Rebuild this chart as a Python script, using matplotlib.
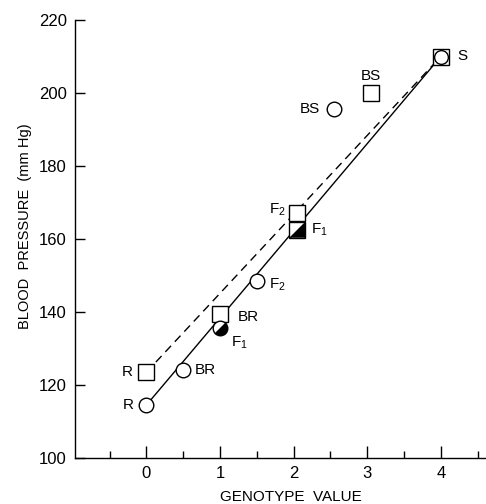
import matplotlib
matplotlib.use("Agg")
import matplotlib.pyplot as plt
from matplotlib.markers import MarkerStyle
from matplotlib.transforms import Affine2D
from matplotlib.ticker import MultipleLocator

# ---- data ----
circle_labels = ["R", "BR", "F1", "F2", "BS", "S"]
circle_x = [0, 0.5, 1.0, 1.5, 2.55, 4.0]
circle_y = [114.5, 124, 135.5, 148.5, 195.5, 210]

square_labels = ["R", "BR", "F2", "F1", "BS", "S"]
square_x = [0, 1.0, 2.05, 2.05, 3.05, 4.0]
square_y = [123.5, 139.5, 167, 162.5, 200, 210]

solid_line_x = [0, 4]
solid_line_y = [114.5, 210]
dashed_line_x = [0, 4]
dashed_line_y = [123.5, 210]

y_ticks = [100, 120, 140, 160, 180, 200, 220]
x_ticks = [0, 1, 2, 3, 4]

# ---- figure ----
plt.rcParams['font.family'] = ['Liberation Sans', 'DejaVu Sans']
fig = plt.figure(figsize=(4.86, 5.04), dpi=100)
ax = fig.add_axes([75/486, 1 - 458/504, 410/486, 438/504])
ax.set_xlim(-0.97, 4.6)
ax.set_ylim(100, 220)

ax.plot(solid_line_x, solid_line_y, color='black', lw=1.0, zorder=2)
ax.plot(dashed_line_x, dashed_line_y, color='black', lw=1.0,
        dashes=(6, 4), zorder=2)

cms = 10.5
sms = 11.0
half_circle = MarkerStyle('o', fillstyle='bottom',
                          transform=Affine2D().rotate_deg(45))
tri = [(1, -1), (1, 1), (-1, -1)]

for lab, x, y in zip(square_labels, square_x, square_y):
    ax.plot([x], [y], marker='s', mec='black', mfc='white', mew=1.0,
            ms=sms, ls='none', zorder=3)
    if lab == "F1":
        ax.plot([x], [y], marker=tri, color='black', ms=sms * 0.95,
                ls='none', zorder=4)

for lab, x, y in zip(circle_labels, circle_x, circle_y):
    size = cms if lab != "S" else sms * 0.9
    if lab == "F1":
        ax.plot([x], [y], marker=half_circle, mfc='black', mfcalt='white',
                mec='black', mew=1.0, ms=size, ls='none', zorder=5)
    else:
        ax.plot([x], [y], marker='o', mec='black', mfc='white', mew=1.0,
                ms=size, ls='none', zorder=5)

fs = 11
def lbl(text, x, y, dx, dy, ha, va='center'):
    ax.annotate(text, (x, y), xytext=(dx, dy), textcoords='offset points',
                ha=ha, va=va, fontsize=fs)

def sub(t):
    return {"F1": r"F$_\mathregular{1}$", "F2": r"F$_\mathregular{2}$"}.get(t, t)

c_off = {"R": (-9, 0, 'right'), "BR": (8, 0, 'left'), "F1": (8, -10, 'left'),
         "F2": (9, -3, 'left'), "BS": (-10, 0, 'right'), "S": (12, 0, 'left')}
s_off = {"R": (-10, 0, 'right'), "BR": (13, -2, 'left'), "F2": (-8, 3, 'right'),
         "F1": (10, 0, 'left'), "BS": (0, 12, 'center')}

for lab, x, y in zip(circle_labels, circle_x, circle_y):
    dx, dy, ha = c_off[lab]
    lbl(sub(lab), x, y, dx, dy, ha)
for lab, x, y in zip(square_labels, square_x, square_y):
    if lab in s_off:
        dx, dy, ha = s_off[lab]
        lbl(sub(lab), x, y, dx, dy, ha)

for s in ['top', 'right']:
    ax.spines[s].set_visible(False)
for s in ['left', 'bottom']:
    ax.spines[s].set_linewidth(1.0)

ax.set_yticks(y_ticks)
ax.set_xticks(x_ticks)
ax.set_xticklabels([str(v) for v in x_ticks])
ax.xaxis.set_minor_locator(MultipleLocator(0.5))
ax.tick_params(axis='y', direction='in', length=7, width=1.0, pad=6, labelsize=12)
ax.tick_params(axis='x', which='major', direction='in', length=9, width=1.0, pad=6, labelsize=12)
ax.tick_params(axis='x', which='minor', direction='in', length=5, width=1.0)
ax.tick_params(axis='y', which='minor', left=False)

ax.set_ylabel("BLOOD  PRESSURE  (mm Hg)", fontsize=10.5)
ax.set_xlabel("GENOTYPE  VALUE", fontsize=11)
ax.xaxis.set_label_coords(0.527, -0.072)
ax.yaxis.set_label_coords(-0.105, 0.53)

fig.savefig("out.png", dpi=100)
